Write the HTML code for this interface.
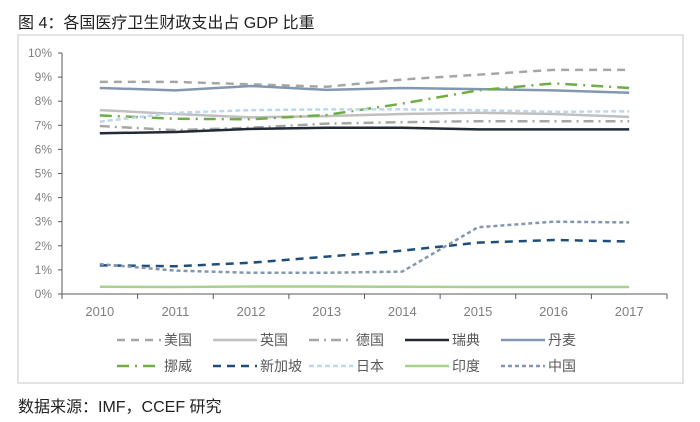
<!DOCTYPE html>
<html><head><meta charset="utf-8"><style>
body{margin:0;background:#fff;width:700px;height:422px;overflow:hidden;font-family:"Liberation Sans","Noto Sans CJK SC",sans-serif;}
#title{position:absolute;left:18px;top:9px;font-size:16px;color:#222;}
#box{position:absolute;left:17px;top:34px;width:667px;height:350px;border:2px solid #e3e3e3;box-sizing:border-box;}
#src{position:absolute;left:18px;top:393px;font-size:16px;color:#222;}
svg{position:absolute;left:0;top:0;}
</style></head><body>
<div id="title">图 4：各国医疗卫生财政支出占 GDP 比重</div>
<div id="box"></div>
<div id="src">数据来源：IMF，CCEF 研究</div>
<svg id="chart" width="700" height="422"></svg>
<script>
const years=["2010","2011","2012","2013","2014","2015","2016","2017"];
const yTicks=[0,1,2,3,4,5,6,7,8,9,10];
const names=["美国","英国","德国","瑞典","丹麦","挪威","新加坡","日本","印度","中国"];
const usa=[8.8,8.8,8.7,8.6,8.9,9.1,9.3,9.3];
const uk=[7.63,7.47,7.33,7.38,7.47,7.52,7.47,7.35];
const germany=[6.97,6.8,6.9,7.07,7.13,7.17,7.17,7.17];
const sweden=[6.67,6.72,6.85,6.9,6.9,6.83,6.83,6.83];
const denmark=[8.55,8.45,8.63,8.47,8.55,8.5,8.45,8.35];
const norway=[7.41,7.27,7.25,7.43,7.9,8.45,8.74,8.55];
const singapore=[1.19,1.15,1.3,1.55,1.8,2.13,2.24,2.18];
const japan=[7.15,7.52,7.63,7.66,7.66,7.63,7.56,7.58];
const india=[0.3,0.29,0.31,0.31,0.3,0.29,0.29,0.29];
const china=[1.24,0.97,0.88,0.88,0.93,2.77,3.0,2.97];
const series=[usa,uk,germany,sweden,denmark,norway,singapore,japan,india,china];
const colors=["#a6a6a6","#c0c0c0","#a6a6a6","#222a35","#8497b0","#70ad47","#1f4e79","#bdd7ee","#a9d18e","#8497b0"];
const dashes=["8,6","","10,5,2,5","","","12,6,2,6","8,6","5,3","","4,3"];
const widths=[2.5,2.5,2.5,2.5,2.5,2.5,2.5,2.5,2.5,2.5];
const NS="http://www.w3.org/2000/svg";
const svg=document.getElementById('chart');
const X0=62,X1=667,Y0=294,Y1=53;
const band=(X1-X0)/years.length;
const xs=i=>X0+band*(i+0.5);
const ys=v=>Y0-(v/10)*(Y0-Y1);
function mk(t,a){const e=document.createElementNS(NS,t);for(const k in a)e.setAttribute(k,a[k]);svg.appendChild(e);return e;}
let ax=mk('line',{x1:X0,y1:Y1,x2:X0,y2:Y0,stroke:'#595959','stroke-width':1});


let bx=mk('line',{x1:X0,y1:Y0,x2:X1,y2:Y0,stroke:'#595959','stroke-width':1});


yTicks.forEach(v=>{
  const y=ys(v);
  mk('line',{x1:X0-4,y1:y,x2:X0,y2:y,stroke:'#595959'});
  const t=mk('text',{x:52,y:y+4,'text-anchor':'end','font-size':12,fill:'#7f7f7f'});
  t.textContent=v+'%';
  
  
});
for(let i=0;i<=years.length;i++){const x=X0+band*i;mk('line',{x1:x,y1:Y0,x2:x,y2:Y0+5,stroke:'#595959'});}
years.forEach((yr,i)=>{
  const t=mk('text',{x:xs(i),y:Y0+22,'text-anchor':'middle','font-size':13,fill:'#7f7f7f'});
  t.textContent=yr;
  
  
});
series.forEach((s,k)=>{
  const p=mk('polyline',{points:s.map((v,i)=>xs(i)+','+ys(v)).join(' '),fill:'none',stroke:colors[k],'stroke-width':widths[k],'stroke-dasharray':dashes[k],'stroke-linejoin':'round'});
  
  
});
names.forEach((n,k)=>{
  const col=k%5,row=Math.floor(k/5);
  const x=117+col*96,y=340+row*26;
  const l=mk('line',{x1:x,y1:y,x2:x+44,y2:y,stroke:colors[k],'stroke-width':2.5,'stroke-dasharray':dashes[k]});
  
  
  const t=mk('text',{x:x+47,y:y+5,'font-size':14,fill:'#595959'});
  t.textContent=n;
  
  
});
</script>
</body></html>
